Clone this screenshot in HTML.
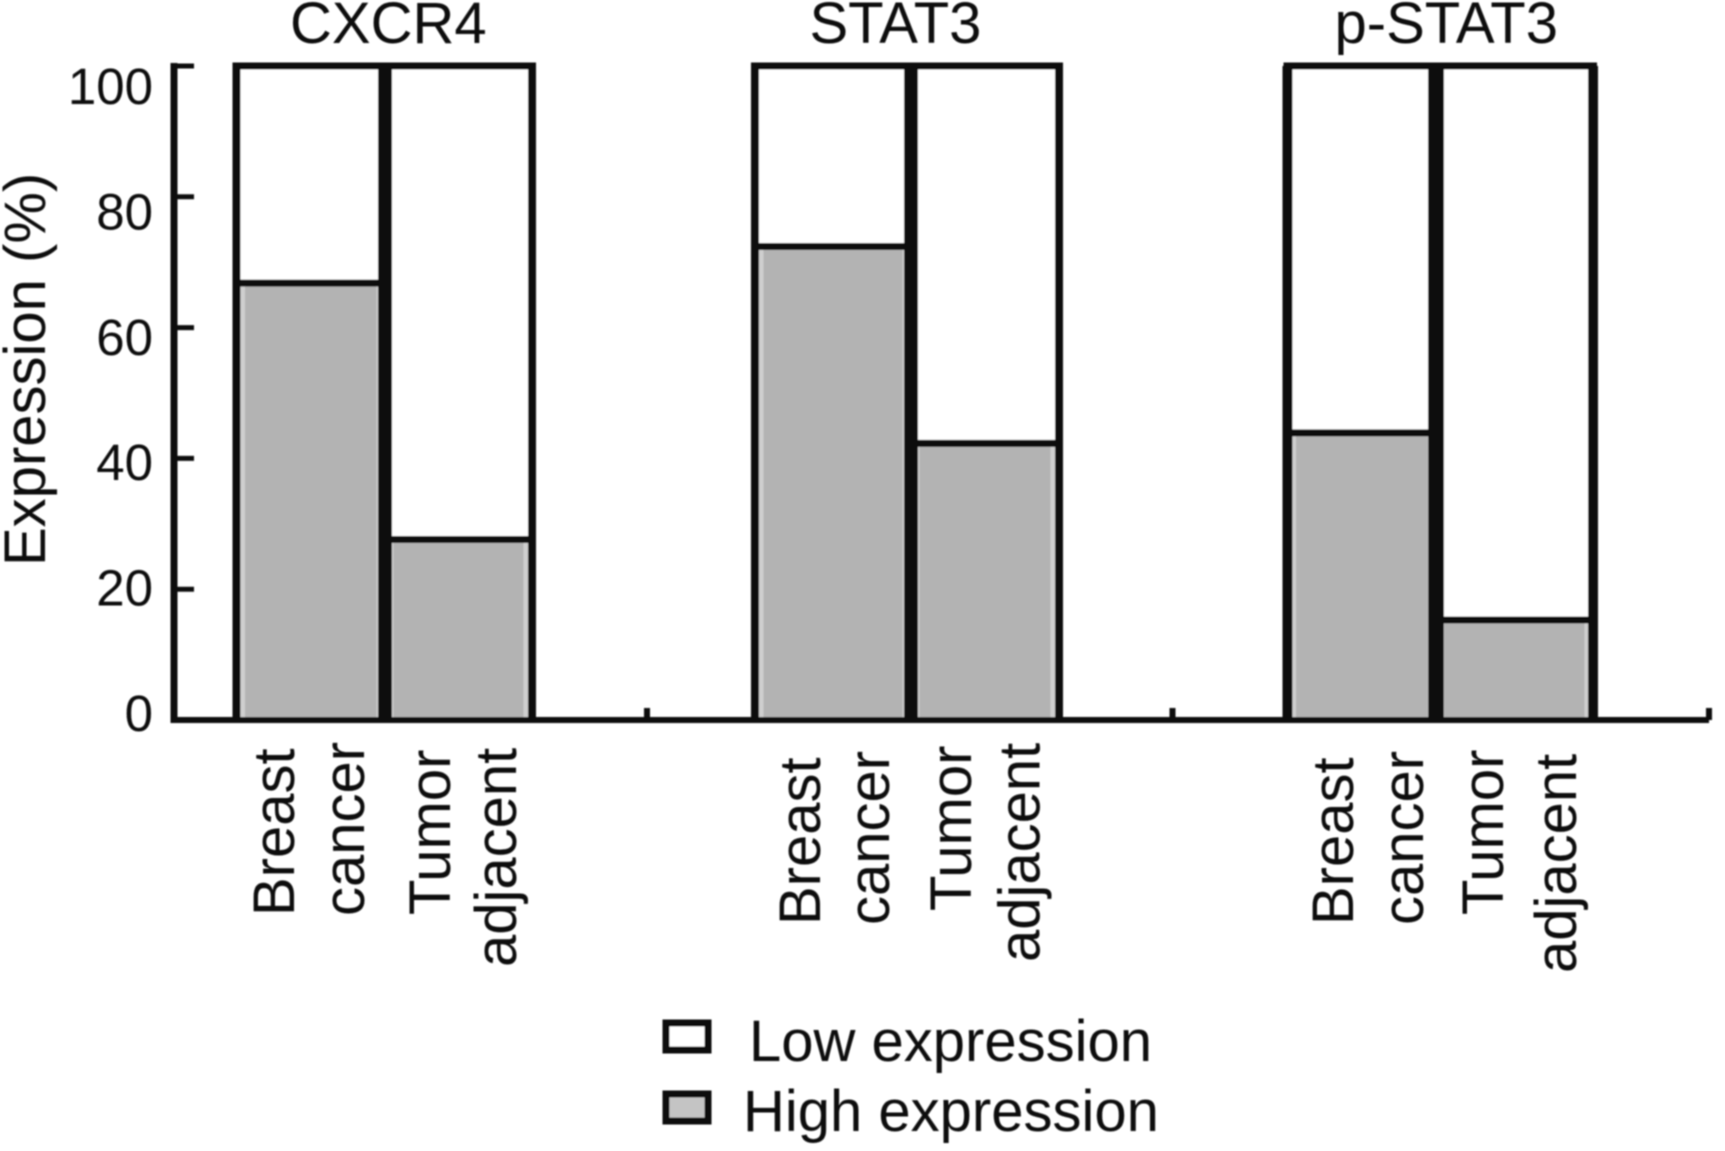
<!DOCTYPE html>
<html lang="en">
<head>
<meta charset="utf-8">
<title>Expression of CXCR4, STAT3 and p-STAT3</title>
<style>
html,body{margin:0;padding:0;background:#fff;}
svg{display:block;}
text{font-family:"Liberation Sans",Arial,sans-serif;fill:#0d0d0d;font-size:58px;}
</style>
</head>
<body>
<svg id="chart" xmlns="http://www.w3.org/2000/svg" width="1725" height="1151" viewBox="0 0 1725 1151">
  <defs><filter id="soft" x="-2%" y="-2%" width="104%" height="104%"><feGaussianBlur stdDeviation="0.9"/></filter></defs>
  <g id="scene" filter="url(#soft)">
    <g id="bars"></g>
    <g id="axes"></g>

    <text x="290" y="43">CXCR4</text>
    <text x="809.5" y="43">STAT3</text>
    <text x="1334.5" y="43">p-STAT3</text>

    <text transform="translate(45 566) rotate(-90)">Expression (%)</text>

    <text transform="translate(294 916) rotate(-90)">Breast</text>
    <text transform="translate(364 916) rotate(-90)">cancer</text>
    <text transform="translate(450 915) rotate(-90)">Tumor</text>
    <text transform="translate(516 967) rotate(-90)">adjacent</text>

    <text transform="translate(820 925) rotate(-90)">Breast</text>
    <text transform="translate(889 925) rotate(-90)">cancer</text>
    <text transform="translate(971 911) rotate(-90)">Tumor</text>
    <text transform="translate(1039.5 962) rotate(-90)">adjacent</text>

    <text transform="translate(1353 925) rotate(-90)">Breast</text>
    <text transform="translate(1423 925) rotate(-90)">cancer</text>
    <text transform="translate(1503 915) rotate(-90)">Tumor</text>
    <text transform="translate(1576 973) rotate(-90)">adjacent</text>

    <g>
      <rect x="666" y="1023" width="42" height="27" fill="#fff" stroke="#111" stroke-width="7"/>
      <text x="749" y="1061">Low expression</text>
      <rect x="666" y="1094" width="42" height="27" fill="#c4c4c4" stroke="#111" stroke-width="7"/>
      <text x="743" y="1131">High expression</text>
    </g>
  </g>
</svg>
<script>
// Chart data
const markers = ['CXCR4', 'STAT3', 'p-STAT3'];
const breastCancerHigh = [66.8, 72.4, 43.9];
const tumorAdjacentHigh = [27.6, 42.3, 15.3];
const yTicks = [0, 20, 40, 60, 80, 100];

// Axis functions
const Y_ZERO = 720, Y_FULL = 66;
function yScale(v) { return Y_ZERO + (Y_FULL - Y_ZERO) * v / 100; }
// the tick labels in the figure are spaced slightly tighter than the tick marks
function yLabelScale(v) { return 731 - 6.27 * v; }
function barEdges(i) {
  if (i === 0) return [236.5, 385, 532];
  if (i === 1) return [755, 911, 1059];
  return [1287.5, 1436, 1593];
}
function groupEndTick(i) {
  if (i === 0) return 647;
  if (i === 1) return 1172.5;
  return 1709;
}
function frameWidth(i) { return i === 2 ? 10 : 8; }
function dividerWidth(i) { return i === 2 ? 16 : 14; }

const NS = 'http://www.w3.org/2000/svg';
function make(parent, tag, attrs) {
  const el = document.createElementNS(NS, tag);
  for (const k in attrs) el.setAttribute(k, attrs[k]);
  parent.appendChild(el);
  return el;
}

const barsG = document.getElementById('bars');
const axesG = document.getElementById('axes');

function drawBar(x0, x1, value, key) {
  const outline = make(barsG, 'rect', { x: x0, y: Y_FULL, width: x1 - x0, height: Y_ZERO - Y_FULL, fill: '#fff' });
  
  
  const yv = yScale(value);
  const fill = make(barsG, 'rect', { x: x0 + 6, y: yv, width: x1 - x0 - 12, height: Y_ZERO - yv, fill: '#b3b3b3', stroke: '#cfcfcf', 'stroke-width': 5 });
  
  
  const sep = make(barsG, 'line', { x1: x0, x2: x1, y1: yv, y2: yv, stroke: '#111', 'stroke-width': 7 });
  
  
}

markers.forEach(function (m, i) {
  const e = barEdges(i);
  drawBar(e[0], e[1], breastCancerHigh[i], m + '-breast-cancer');
  drawBar(e[1], e[2], tumorAdjacentHigh[i], m + '-tumor-adjacent');
  const frameSide = make(barsG, 'path', {
    d: 'M' + e[0] + ' ' + Y_ZERO + 'V' + Y_FULL + 'M' + e[2] + ' ' + Y_FULL + 'V' + Y_ZERO,
    fill: 'none', stroke: '#111', 'stroke-width': frameWidth(i)
  });
  
  
  const frameTop = make(barsG, 'line', { x1: e[0] - 4, x2: e[2] + 4, y1: Y_FULL, y2: Y_FULL, stroke: '#111', 'stroke-width': 7 });
  
  
  const divider = make(barsG, 'line', { x1: e[1], x2: e[1], y1: Y_FULL, y2: Y_ZERO, stroke: '#0b0b0b', 'stroke-width': dividerWidth(i) });
  
  
});

const yAxis = make(axesG, 'line', { x1: 174, x2: 174, y1: Y_FULL - 3, y2: Y_ZERO + 3, stroke: '#111', 'stroke-width': 7 });


const xAxis = make(axesG, 'line', { x1: 171, x2: 1709, y1: Y_ZERO, y2: Y_ZERO, stroke: '#111', 'stroke-width': 6 });



yTicks.forEach(function (t) {
  const yv = yScale(t);
  const tick = make(axesG, 'line', { x1: 174, x2: 194, y1: yv, y2: yv, stroke: '#111', 'stroke-width': 5 });
  
  
  const label = make(axesG, 'text', { x: 153, y: yLabelScale(t), 'text-anchor': 'end', style: 'font-size:51px' });
  label.textContent = String(t);
  
  
});

markers.forEach(function (m, i) {
  const x = groupEndTick(i);
  const xt = make(axesG, 'line', { x1: x, x2: x, y1: Y_ZERO - 12, y2: Y_ZERO, stroke: '#111', 'stroke-width': 6 });
  
  
});
</script>
</body>
</html>
